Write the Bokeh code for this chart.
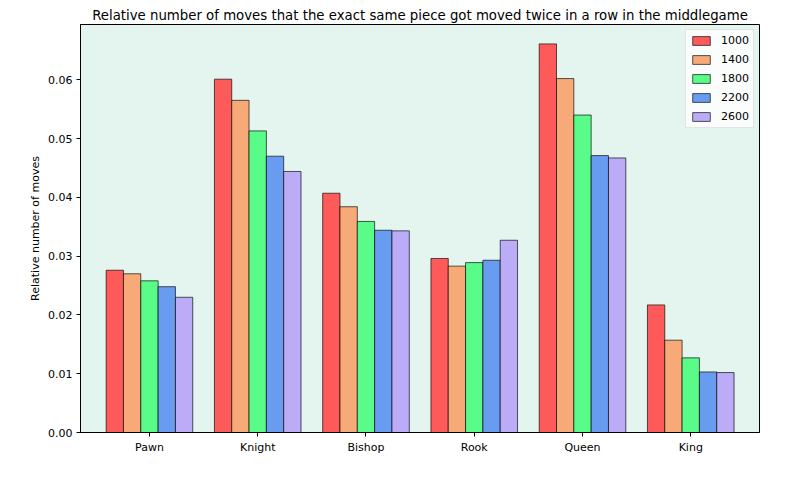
from bokeh.plotting import figure
from bokeh.models import Range1d, FixedTicker, PrintfTickFormatter, ColumnDataSource, Legend, LegendItem
from bokeh.embed import file_html
from bokeh.resources import INLINE
import numpy as np

categories = ["Pawn", "Knight", "Bishop", "Rook", "Queen", "King"]
elo_groups = ["1000", "1400", "1800", "2200", "2600"]
vals_1000 = [0.0276, 0.0601, 0.0407, 0.0296, 0.0661, 0.0217]
vals_1400 = [0.0270, 0.0565, 0.0384, 0.0283, 0.0602, 0.0157]
vals_1800 = [0.0258, 0.0513, 0.0359, 0.0289, 0.0540, 0.0127]
vals_2200 = [0.0248, 0.0470, 0.0344, 0.0293, 0.0471, 0.0103]
vals_2600 = [0.0230, 0.0444, 0.0343, 0.0327, 0.0467, 0.0102]
series = [vals_1000, vals_1400, vals_1800, vals_2200, vals_2600]
colors = ["#fe5a5a", "#f7aa78", "#59fb89", "#679cf0", "#bcacf8"]
y_ticks = [0.0, 0.01, 0.02, 0.03, 0.04, 0.05, 0.06]

FONT = "DejaVu Sans"
bar_w = 0.16
offsets = [-0.32, -0.16, 0.0, 0.16, 0.32]

p = figure(width=800, height=480, output_backend="svg", toolbar_location=None,
           x_range=Range1d(-0.637, 5.635), y_range=Range1d(0, 0.0694),
           min_border_left=80, min_border_right=41, min_border_top=24, min_border_bottom=48,
           title="Relative number of moves that the exact same piece got moved twice in a row in the middlegame")
p.title.align = "center"
p.title.text_font = FONT
p.title.text_font_style = "normal"
p.title.text_font_size = "13.3px"
p.title.text_color = "black"
p.title.standoff = 4
p.background_fill_color = "#e4f5ef"
p.border_fill_color = "white"
p.outline_line_color = "black"
p.outline_line_width = 1
p.grid.visible = False

pos = np.arange(len(categories))
items = []
for i, (vals, col, lab) in enumerate(zip(series, colors, elo_groups)):
    src = ColumnDataSource(dict(x=pos + offsets[i], top=vals))
    r = p.vbar(x="x", top="top", width=bar_w, bottom=0, source=src,
               fill_color=col, line_color="black", line_alpha=0.65, line_width=1)
    items.append(LegendItem(label=lab, renderers=[r]))

legend = Legend(items=items, location="top_right", margin=5, padding=4,
                spacing=6, glyph_width=22, glyph_height=11, label_height=11,
                label_standoff=9, label_text_font=FONT, label_text_font_size="11px",
                label_text_color="black",
                border_line_color="#cccccc", border_line_width=1,
                background_fill_color="white", background_fill_alpha=0.8)
p.add_layout(legend)

p.xaxis.ticker = FixedTicker(ticks=list(pos))
p.xaxis.major_label_overrides = {int(i): c for i, c in enumerate(categories)}
p.yaxis.ticker = FixedTicker(ticks=y_ticks)
p.yaxis.formatter = PrintfTickFormatter(format="%.2f")
p.yaxis.axis_label = "Relative number of moves"
for ax in (p.xaxis[0], p.yaxis[0]):
    ax.major_label_text_font = FONT
    ax.major_label_text_font_size = "11px"
    ax.major_label_text_color = "black"
    ax.major_tick_out = 4
    ax.major_tick_in = 0
    ax.minor_tick_out = 0
    ax.minor_tick_in = 0
    ax.axis_line_color = "black"
    ax.major_tick_line_color = "black"
    ax.major_label_standoff = 4
p.yaxis.axis_label_text_font = FONT
p.yaxis.axis_label_text_font_size = "11px"
p.yaxis.axis_label_text_font_style = "normal"
p.yaxis.axis_label_text_color = "black"
p.yaxis.axis_label_standoff = 3

open("out.html", "w").write(file_html(p, INLINE))
